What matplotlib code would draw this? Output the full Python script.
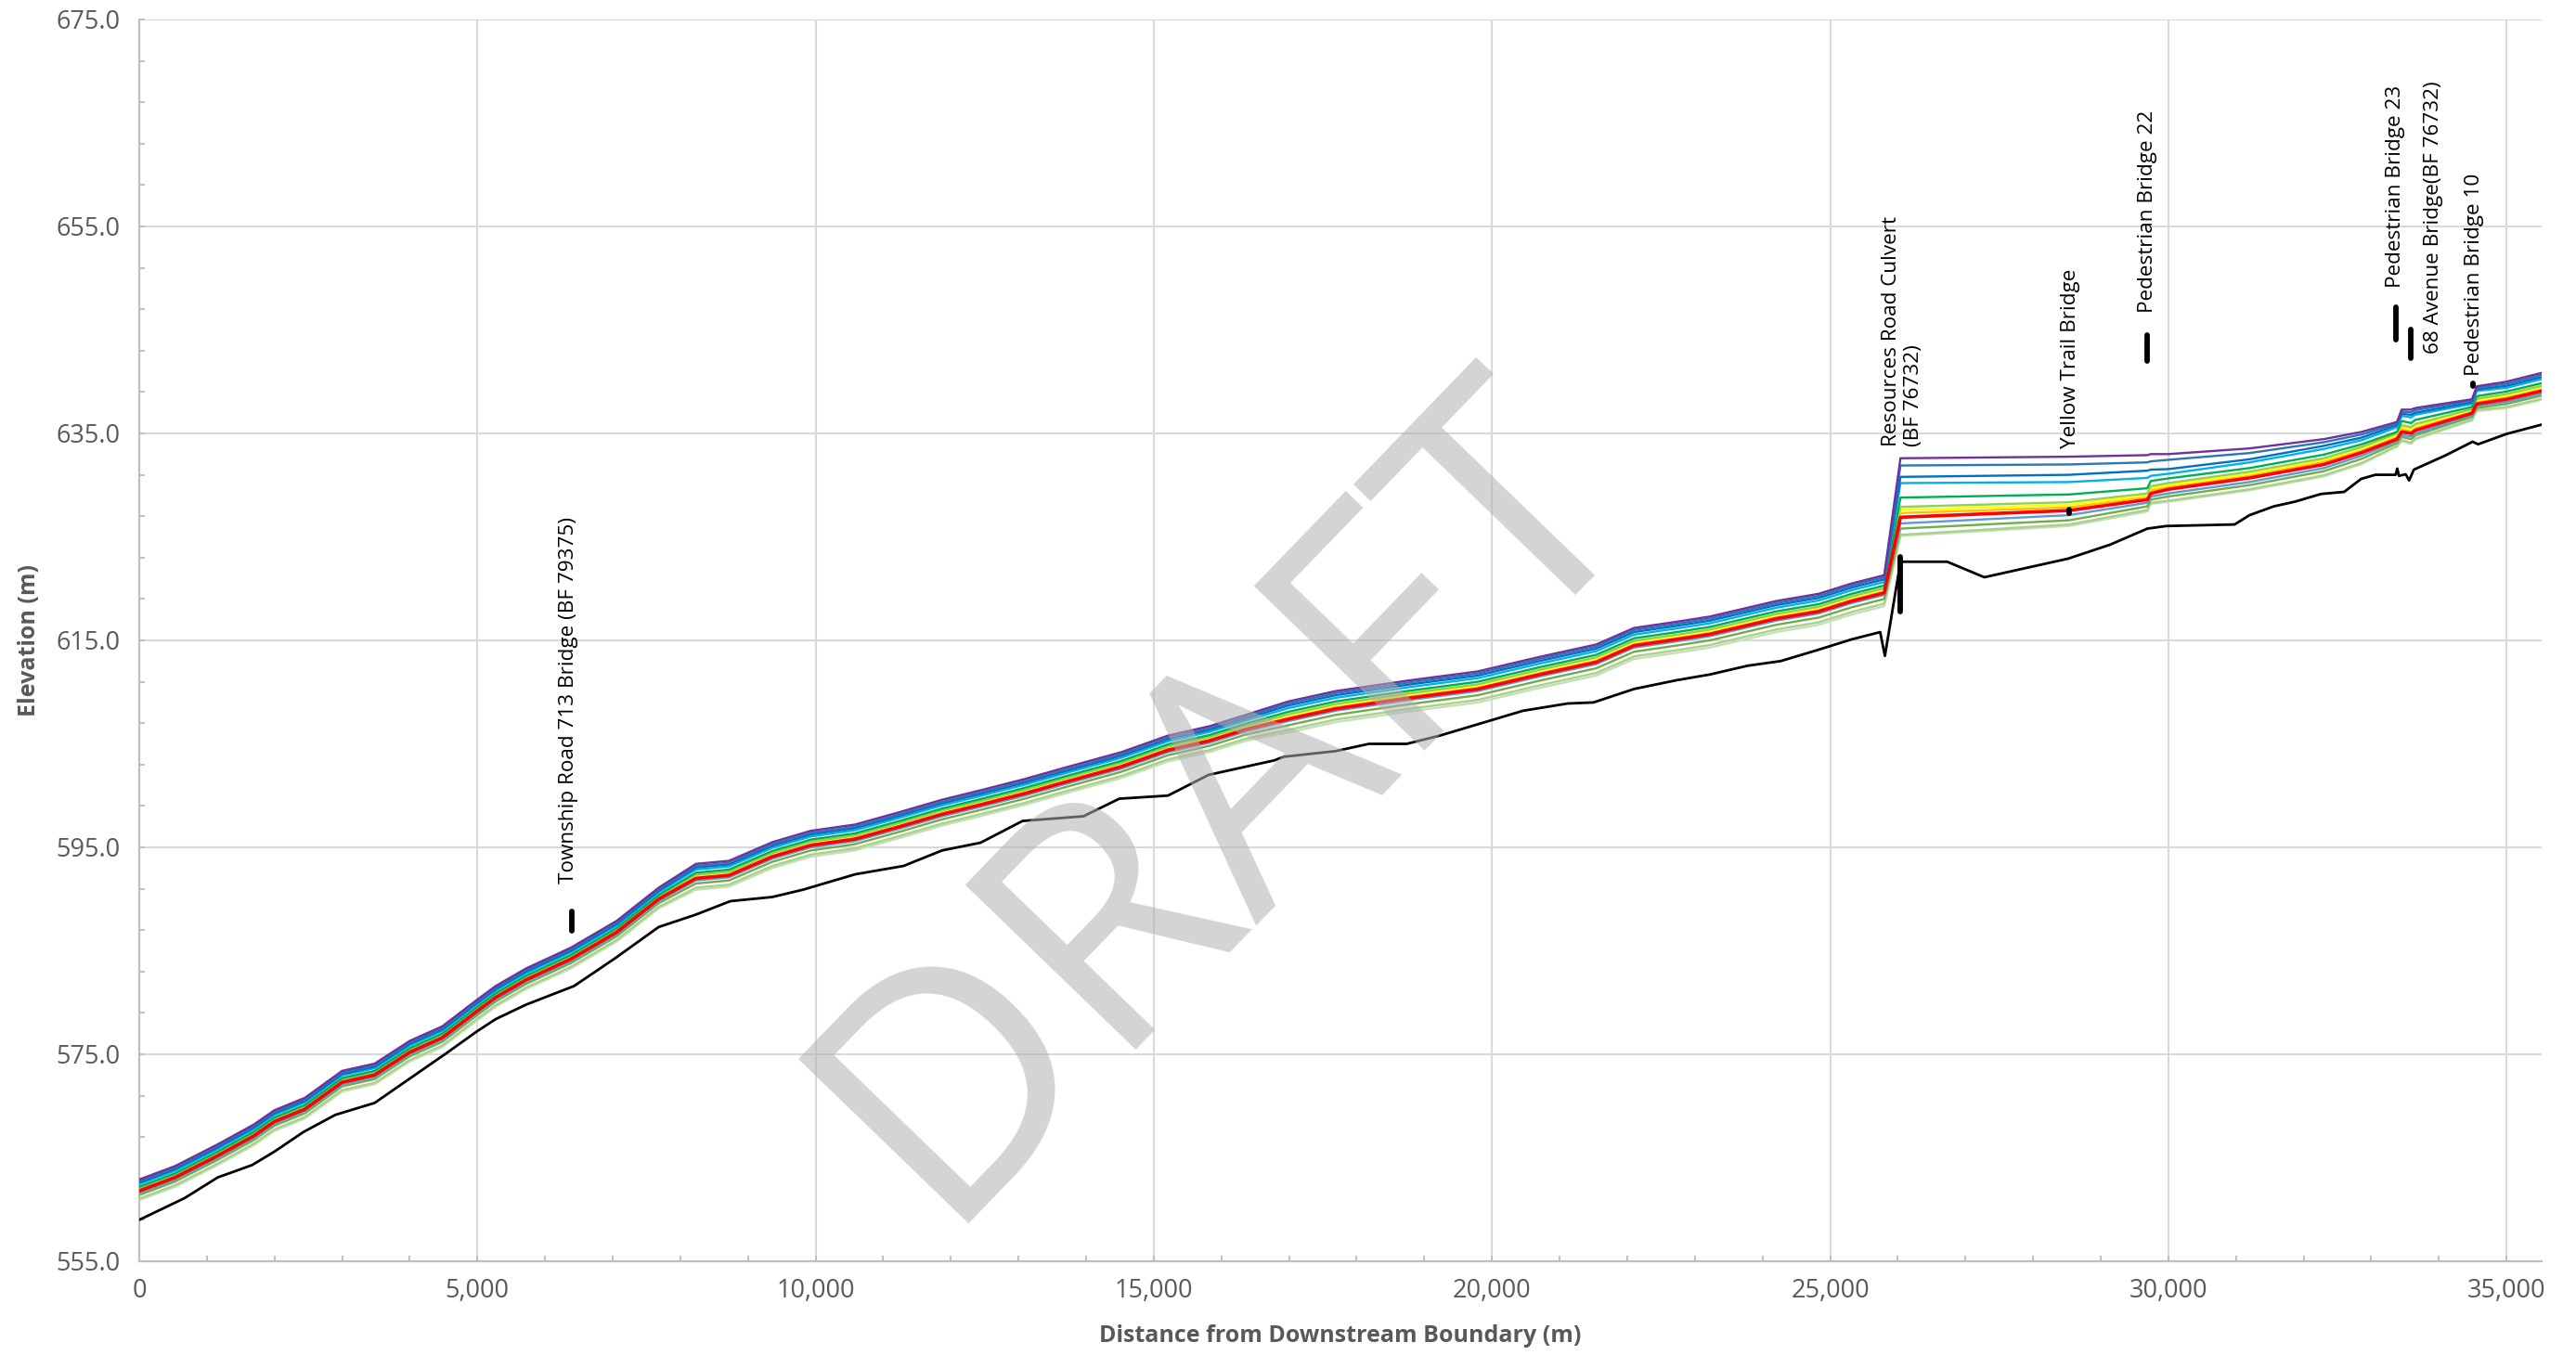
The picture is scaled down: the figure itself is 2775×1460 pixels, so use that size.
import matplotlib
matplotlib.use("Agg")
import matplotlib.pyplot as plt
from matplotlib.ticker import MultipleLocator, FuncFormatter, FixedLocator

# ---------------- data ----------------
stations = [0, 530, 1160, 1690, 2000, 2450, 3000, 3480, 4000, 4480, 4980, 5270, 5720, 6380, 7060, 7680,
            8230, 8720, 9360, 9930, 10580, 11240, 11870, 12430, 13090, 13630, 14520, 15210, 15820, 16360,
            16990, 17690, 18740, 19790, 20700, 21540, 22100, 22730, 23220, 24200, 24830, 25320, 25800,
            26040, 28530, 29690, 29740, 30000, 31200, 32300, 32860, 33380, 33450, 33590, 33650, 34490, 34560, 35000, 35520]

wse_purple = [562.9, 564.2, 566.3, 568.2, 569.6, 570.8, 573.4, 574.1, 576.3, 577.7, 580.2, 581.6, 583.3, 585.3, 587.9, 591.1,
              593.4, 593.7, 595.5, 596.6, 597.2, 598.4, 599.6, 600.5, 601.6, 602.6, 604.2, 605.8, 606.7, 607.8,
              609.1, 610.1, 611.1, 612.0, 613.4, 614.6, 616.2, 616.8, 617.3, 618.8, 619.5, 620.5, 621.3,
              632.6, 632.75, 632.9, 633.0, 633.0, 633.55, 634.45, 635.15, 636.1, 637.3, 637.3, 637.45, 638.3, 639.55, 640.0, 640.85]
wse_blue1 = [562.75, 564.05, 566.15, 568.05, 569.45, 570.65, 573.25, 573.95, 576.15, 577.55, 580.05, 581.45, 583.15, 585.15, 587.75, 590.95,
             593.2, 593.5, 595.3, 596.4, 597.0, 598.2, 599.4, 600.3, 601.4, 602.4, 604.0, 605.6, 606.5, 607.6,
             608.9, 609.9, 610.9, 611.8, 613.2, 614.4, 616.0, 616.6, 617.1, 618.6, 619.3, 620.3, 621.1,
             631.9, 632.0, 632.2, 632.3, 632.45, 633.1, 634.15, 634.9, 635.95, 637.1, 637.05, 637.25, 638.15, 639.4, 639.8, 640.65]
wse_blue2 = [562.6, 563.9, 566.0, 567.9, 569.3, 570.5, 573.1, 573.8, 576.0, 577.4, 579.9, 581.3, 583.0, 585.0, 587.6, 590.8,
             593.05, 593.35, 595.15, 596.25, 596.85, 598.05, 599.25, 600.15, 601.25, 602.25, 603.85, 605.45, 606.35, 607.45,
             608.7, 609.7, 610.7, 611.6, 613.0, 614.2, 615.8, 616.4, 616.9, 618.4, 619.1, 620.1, 620.9,
             630.8, 631.0, 631.4, 631.5, 631.55, 632.5, 633.8, 634.6, 635.8, 636.9, 636.8, 637.0, 638.0, 639.25, 639.6, 640.45]
wse_lightblue = [562.45, 563.75, 565.85, 567.75, 569.15, 570.35, 572.95, 573.65, 575.85, 577.25, 579.75, 581.15, 582.85, 584.85, 587.45, 590.65,
                 592.85, 593.15, 594.95, 596.05, 596.65, 597.85, 599.05, 599.95, 601.05, 602.05, 603.65, 605.25, 606.15, 607.25,
                 608.45, 609.45, 610.45, 611.35, 612.75, 613.95, 615.55, 616.15, 616.65, 618.15, 618.85, 619.85, 620.65,
                 630.2, 630.3, 630.7, 630.9, 631.1, 632.2, 633.5, 634.35, 635.6, 636.7, 636.55, 636.8, 637.85, 639.1, 639.4, 640.25]
wse_green = [562.2, 563.5, 565.6, 567.5, 568.9, 570.1, 572.7, 573.4, 575.6, 577.0, 579.5, 580.9, 582.6, 584.6, 587.2, 590.4,
             592.55, 592.85, 594.65, 595.75, 596.35, 597.55, 598.75, 599.65, 600.75, 601.75, 603.35, 604.95, 605.85, 606.95,
             608.1, 609.1, 610.1, 611.0, 612.4, 613.6, 615.2, 615.8, 616.3, 617.8, 618.5, 619.5, 620.3,
             628.8, 629.1, 629.7, 630.4, 630.65, 631.65, 632.95, 633.95, 635.15, 636.2, 636.0, 636.3, 637.55, 638.6, 639.05, 639.85]
wse_yellowgreen = [562.05, 563.35, 565.45, 567.35, 568.75, 569.95, 572.55, 573.25, 575.45, 576.85, 579.35, 580.75, 582.45, 584.45, 587.05, 590.25,
                   592.35, 592.65, 594.45, 595.55, 596.15, 597.35, 598.55, 599.45, 600.55, 601.55, 603.15, 604.75, 605.65, 606.75,
                   607.85, 608.85, 609.85, 610.75, 612.15, 613.35, 614.95, 615.55, 616.05, 617.55, 618.25, 619.25, 620.05,
                   627.9, 628.35, 629.2, 629.9, 630.2, 631.3, 632.6, 633.7, 635.0, 635.8, 635.6, 635.9, 637.35, 638.35, 638.8, 639.6]
wse_yellow = [562.0, 563.3, 565.4, 567.3, 568.7, 569.9, 572.5, 573.2, 575.4, 576.8, 579.3, 580.7, 582.4, 584.4, 587.0, 590.2,
              592.25, 592.55, 594.35, 595.45, 596.05, 597.25, 598.45, 599.35, 600.45, 601.45, 603.05, 604.65, 605.55, 606.65,
              607.7, 608.7, 609.7, 610.6, 612.0, 613.2, 614.8, 615.4, 615.9, 617.4, 618.1, 619.1, 619.9,
              627.6, 628.1, 629.0, 629.7, 630.0, 631.1, 632.45, 633.55, 634.85, 635.6, 635.4, 635.7, 637.25, 638.2, 638.65, 639.45]
wse_orange = [561.9, 563.2, 565.3, 567.2, 568.6, 569.8, 572.4, 573.1, 575.3, 576.7, 579.2, 580.6, 582.3, 584.3, 586.9, 590.1,
              592.15, 592.45, 594.25, 595.35, 595.95, 597.15, 598.35, 599.25, 600.35, 601.35, 602.95, 604.55, 605.45, 606.55,
              607.6, 608.6, 609.6, 610.5, 611.9, 613.1, 614.7, 615.3, 615.8, 617.3, 618.0, 619.0, 619.8,
              627.3, 627.85, 628.85, 629.5, 629.8, 630.9, 632.25, 633.35, 634.65, 635.4, 635.2, 635.5, 637.1, 638.05, 638.5, 639.3]
wse_red = [561.8, 563.1, 565.2, 567.1, 568.5, 569.7, 572.3, 573.0, 575.2, 576.6, 579.1, 580.5, 582.2, 584.2, 586.8, 590.0,
           592.0, 592.3, 594.1, 595.2, 595.8, 597.0, 598.2, 599.1, 600.2, 601.2, 602.8, 604.4, 605.3, 606.4,
           607.4, 608.4, 609.4, 610.3, 611.7, 612.9, 614.5, 615.1, 615.6, 617.1, 617.8, 618.8, 619.6,
           626.9, 627.55, 628.6, 629.2, 629.6, 630.7, 632.0, 633.15, 634.45, 635.15, 635.0, 635.3, 636.95, 637.85, 638.3, 639.1]
wse_steelblue = [561.6, 562.9, 565.0, 566.9, 568.3, 569.5, 572.1, 572.8, 575.0, 576.4, 578.9, 580.3, 582.0, 584.0, 586.6, 589.8,
                 591.8, 592.1, 593.9, 595.0, 595.6, 596.8, 598.0, 598.9, 600.0, 601.0, 602.6, 604.2, 605.1, 606.2,
                 607.2, 608.2, 609.2, 610.1, 611.5, 612.7, 614.3, 614.9, 615.4, 616.9, 617.6, 618.6, 619.4,
                 626.3, 627.1, 628.3, 628.9, 629.2, 630.3, 631.65, 632.85, 634.25, 634.85, 634.7, 635.0, 636.75, 637.65, 638.05, 638.85]
wse_green2 = [561.4, 562.7, 564.8, 566.7, 568.1, 569.3, 571.9, 572.6, 574.8, 576.2, 578.7, 580.1, 581.8, 583.8, 586.4, 589.6,
              591.5, 591.8, 593.6, 594.7, 595.3, 596.5, 597.7, 598.6, 599.7, 600.7, 602.3, 603.9, 604.8, 605.9,
              606.8, 607.8, 608.8, 609.7, 611.1, 612.3, 613.9, 614.5, 615.0, 616.5, 617.2, 618.2, 619.0,
              625.8, 626.6, 627.95, 628.6, 628.9, 630.0, 631.35, 632.55, 634.05, 634.65, 634.45, 634.8, 636.6, 637.45, 637.85, 638.65]
wse_lightgreen = [561.05, 562.35, 564.45, 566.35, 567.75, 568.95, 571.55, 572.25, 574.45, 575.85, 578.35, 579.75, 581.45, 583.45, 586.05, 589.25,
                  591.1, 591.4, 593.2, 594.3, 594.9, 596.1, 597.3, 598.2, 599.3, 600.3, 601.9, 603.5, 604.4, 605.5,
                  606.35, 607.35, 608.35, 609.25, 610.65, 611.85, 613.45, 614.05, 614.55, 616.05, 616.75, 617.75, 618.55,
                  625.2, 626.2, 627.6, 628.3, 628.5, 629.6, 630.95, 632.15, 633.8, 634.35, 634.1, 634.5, 636.35, 637.25, 637.55, 638.35]
wse_palegreen = [560.9, 562.2, 564.3, 566.2, 567.6, 568.8, 571.4, 572.1, 574.3, 575.7, 578.2, 579.6, 581.3, 583.3, 585.9, 589.1,
                 590.9, 591.2, 593.0, 594.1, 594.7, 595.9, 597.1, 598.0, 599.1, 600.1, 601.7, 603.3, 604.2, 605.3,
                 606.1, 607.1, 608.1, 609.0, 610.4, 611.6, 613.2, 613.8, 614.3, 615.8, 616.5, 617.5, 618.3,
                 625.1, 626.05, 627.45, 628.2, 628.4, 629.5, 630.85, 632.05, 633.7, 634.25, 634.0, 634.4, 636.25, 637.15, 637.45, 638.25]

thalweg_sta = [0, 670, 1160, 1670, 2000, 2430, 2900, 3480, 4010, 4540, 4990, 5270, 5720, 6430, 7040, 7680, 8230, 8740,
               9360, 9810, 10590, 11300, 11870, 12440, 13060, 13960, 14490, 15210, 15810, 16780, 16920, 17690, 18180,
               18740, 19230, 20000, 20460, 21120, 21500, 22100, 22730, 23220, 23780, 24270, 24830, 25320, 25740, 25810,
               26040, 26730, 27280, 28520, 29140, 29690, 29970, 30980, 31200, 31560, 31870, 32260, 32600, 32850, 33060,
               33360, 33385, 33410, 33510, 33560, 33630, 34090, 34500, 34580, 35000, 35520]
thalweg_elev = [559.0, 561.1, 563.1, 564.3, 565.6, 567.5, 569.15, 570.3, 572.7, 575.1, 577.2, 578.4, 579.8, 581.6, 584.3,
                587.3, 588.5, 589.8, 590.2, 590.9, 592.4, 593.2, 594.7, 595.45, 597.55, 598.0, 599.7, 600.0, 602.0, 603.4,
                603.75, 604.3, 605.0, 605.0, 605.8, 607.3, 608.2, 608.9, 609.0, 610.3, 611.15, 611.7, 612.55, 613.0, 614.1,
                615.1, 615.8, 613.5, 622.6, 622.6, 621.1, 622.9, 624.25, 625.8, 626.05, 626.2, 627.1, 627.95, 628.4,
                629.15, 629.35, 630.6, 631.0, 631.0, 631.6, 630.9, 631.05, 630.45, 631.5, 632.85, 634.2, 633.95, 634.95, 635.85]

bridge_names = ["Township Road 713 Bridge (BF 79375)", "Resources Road Culvert\n(BF 76732)", "Yellow Trail Bridge",
                "Pedestrian Bridge 22", "Pedestrian Bridge 23", "68 Avenue Bridge(BF 76732)", "Pedestrian Bridge 10"]
bridge_sta = [6400, 26030, 28530, 29690, 33370, 33580, 34500]
bridge_low = [586.9, 617.8, 627.25, 642.0, 644.1, 642.3, 639.55]
bridge_high = [588.8, 623.1, 627.65, 644.5, 647.2, 645.0, 639.85]
label_sta = [6350, 26070, 28560, 29690, 33360, 33920, 34520]
label_elev = [591.5, 633.7, 633.6, 646.7, 649.1, 642.7, 640.6]

x_ticks_major = [0, 5000, 10000, 15000, 20000, 25000, 30000, 35000]
y_ticks_major = [555, 575, 595, 615, 635, 655, 675]

# ---------------- figure ----------------
plt.rcParams['font.family'] = ['Open Sans', 'DejaVu Sans']
fig = plt.figure(figsize=(27.75, 14.60), dpi=100)
ax = fig.add_axes([0.05405, 0.06918, 0.93262, 0.91644])

series = [
    (wse_palegreen, '#C5E0B4', 1.7),
    (wse_lightgreen, '#A9D18E', 1.7),
    (wse_green2, '#70AD47', 1.7),
    (wse_steelblue, '#5B9BD5', 1.7),
    (wse_orange, '#FFC000', 1.7),
    (wse_yellow, '#FFFF00', 1.7),
    (wse_yellowgreen, '#92D050', 1.7),
    (wse_green, '#00B050', 1.7),
    (wse_lightblue, '#00B0F0', 1.7),
    (wse_blue2, '#0070C0', 1.7),
    (wse_blue1, '#2E75B6', 1.7),
    (wse_purple, '#7030A0', 1.7),
]
for vals, col, lw in series:
    ax.plot(stations, vals, color=col, lw=lw, zorder=3, solid_joinstyle='round')
ax.plot(stations, wse_red, color='#FF0000', lw=2.6, zorder=4, solid_joinstyle='round')
ax.plot(thalweg_sta, thalweg_elev, color='black', lw=2.0, zorder=5)

for s, lo, hi in zip(bridge_sta, bridge_low, bridge_high):
    ax.plot([s, s], [lo, hi], color='black', lw=4.2, solid_capstyle='round', zorder=6)

for name, s, e in zip(bridge_names, label_sta, label_elev):
    ax.text(s, e, name, rotation=90, ha='center', va='bottom', fontsize=16.2,
            color='black', multialignment='left', linespacing=1.2, zorder=7)

ax.set_xlim(0, 35520)
ax.set_ylim(555, 675)

ax.xaxis.set_major_locator(FixedLocator(x_ticks_major))
ax.xaxis.set_minor_locator(MultipleLocator(1000))
ax.yaxis.set_major_locator(FixedLocator(y_ticks_major))
ax.yaxis.set_minor_locator(MultipleLocator(4, offset=3))
ax.xaxis.set_major_formatter(FuncFormatter(lambda v, p: f"{int(round(v)):,}"))
ax.yaxis.set_major_formatter(FuncFormatter(lambda v, p: f"{v:.1f}"))

ax.grid(True, which='major', color='#d9d9d9', lw=1.5, zorder=0)
ax.set_axisbelow(True)
for side in ['top', 'right']:
    ax.spines[side].set_visible(False)
for side in ['left', 'bottom']:
    ax.spines[side].set_color('#bfbfbf')
    ax.spines[side].set_linewidth(1.6)

ax.tick_params(which='both', direction='in', color='#bfbfbf', width=1.4)
ax.tick_params(which='major', length=4, labelsize=19.5, labelcolor='#595959')
ax.tick_params(which='minor', length=4)
ax.tick_params(axis='y', which='major', pad=15)
ax.tick_params(axis='x', which='major', pad=13)

ax.set_xlabel('Distance from Downstream Boundary (m)', fontsize=18, fontweight='bold', color='#595959')
ax.set_ylabel('Elevation (m)', fontsize=18, fontweight='bold', color='#595959')
ax.xaxis.set_label_coords(0.5, -0.06)
ax.xaxis.label.set_verticalalignment('center')
ax.yaxis.set_label_coords(-0.0456, 0.5)
ax.yaxis.label.set_verticalalignment('center')

fig.text(0.476, 0.410, 'DRAFT', fontsize=258, rotation=46, ha='center', va='center',
         color='#b0b0b0', alpha=0.55, zorder=10)

fig.savefig('out.png', dpi=100)
